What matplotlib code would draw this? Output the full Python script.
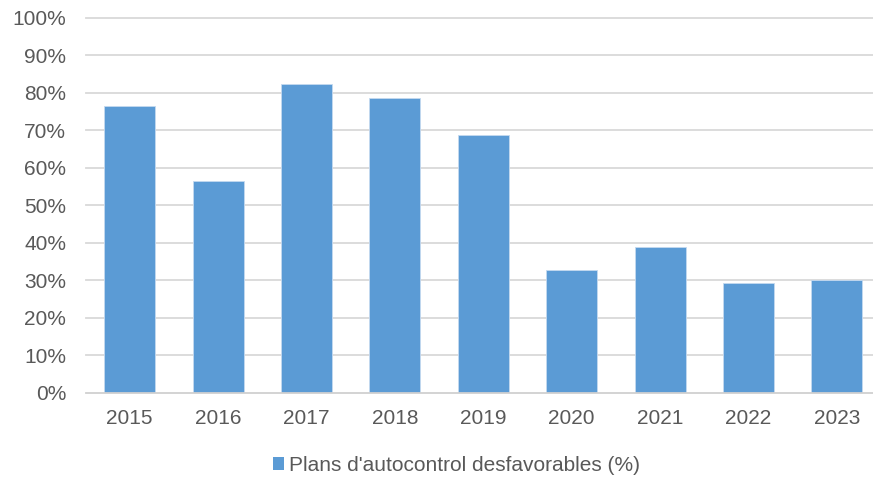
import matplotlib
matplotlib.use('Agg')
import matplotlib.pyplot as plt
from matplotlib.patches import Patch


years = ['2015', '2016', '2017', '2018', '2019', '2020', '2021', '2022', '2023']
unfavourable = [0.764, 0.564, 0.823, 0.787, 0.687, 0.326, 0.389, 0.293, 0.300]
y_ticks = [0.0, 0.1, 0.2, 0.3, 0.4, 0.5, 0.6, 0.7, 0.8, 0.9, 1.0]
series_label = "Plans d'autocontrol desfavorables (%)"

plt.rcParams['font.family'] = ['Liberation Sans', 'DejaVu Sans']
text_color = '#595959'
bar_color = '#5B9BD5'

fig = plt.figure(figsize=(8.73, 4.78), dpi=100)
ax = fig.add_axes([85.5 / 873, 85.3 / 478, 795.6 / 873, 375 / 478])

x = range(len(years))
ax.bar(x, unfavourable, width=0.577, color=bar_color, edgecolor='#C5DAF0',
       linewidth=0.6, zorder=3)

ax.set_xlim(-0.5, len(years) - 0.5)
ax.set_ylim(0, 1.0)
ax.set_xticks(list(x))
ax.set_xticklabels(years)
ax.set_yticks(y_ticks)
ax.set_yticklabels([f'{int(round(t * 100))}%' for t in y_ticks])

for t in y_ticks[1:]:
    ax.axhline(t, color='#D9D9D9', linewidth=1.3, zorder=1, clip_on=False)
ax.axhline(0, color='#D0D0D0', linewidth=1.3, zorder=4, clip_on=False)

for s in ax.spines.values():
    s.set_visible(False)
ax.tick_params(axis='both', length=0, labelsize=15, labelcolor=text_color)
ax.tick_params(axis='y', pad=14)
ax.tick_params(axis='x', pad=11.5)

handle = Patch(facecolor=bar_color, edgecolor='none')
fig.legend([handle], [series_label], loc='center', bbox_to_anchor=(0.523, 0.027),
           frameon=False, fontsize=15, labelcolor=text_color,
           handlelength=0.55, handleheight=0.55, handletextpad=0.25)

fig.savefig('out.png', dpi=100)
